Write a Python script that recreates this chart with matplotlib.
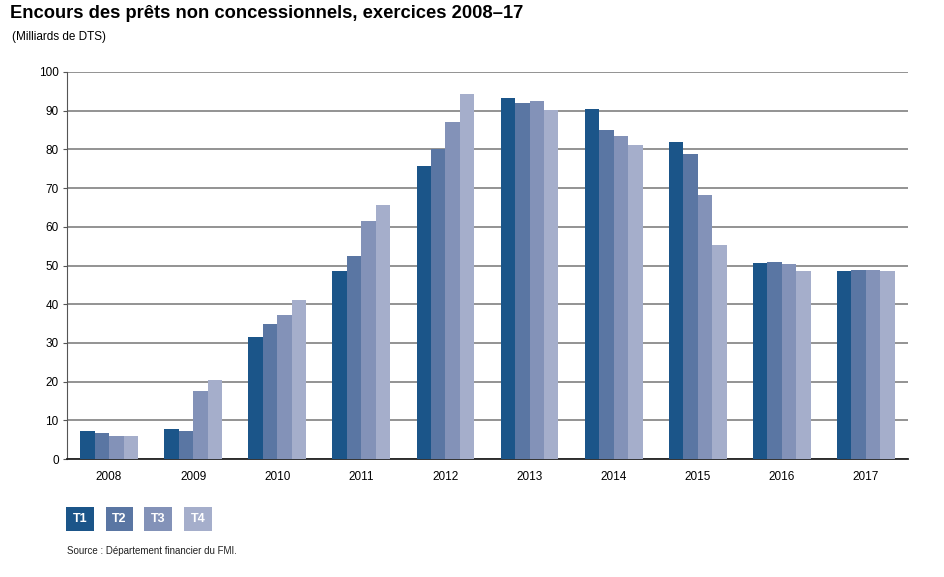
import matplotlib
matplotlib.use("Agg")
import matplotlib.pyplot as plt
import numpy as np

plt.rcParams['font.family'] = ['Liberation Sans', 'DejaVu Sans']

years = ["2008", "2009", "2010", "2011", "2012", "2013", "2014", "2015", "2016", "2017"]
series_names = ["T1", "T2", "T3", "T4"]
t1 = [7.3, 7.7, 31.6, 48.5, 75.6, 93.3, 90.4, 82.0, 50.7, 48.5]
t2 = [6.6, 7.3, 35.0, 52.5, 80.2, 91.9, 85.1, 78.7, 50.9, 48.9]
t3 = [5.9, 17.7, 37.2, 61.4, 87.2, 92.6, 83.4, 68.1, 50.3, 48.9]
t4 = [5.9, 20.5, 41.1, 65.6, 94.4, 90.1, 81.2, 55.3, 48.5, 48.5]
colors = ["#1b5589", "#5a76a3", "#8392b8", "#a5aecb"]
yticks = [0, 10, 20, 30, 40, 50, 60, 70, 80, 90, 100]

fig = plt.figure(figsize=(9.44, 5.77), dpi=100)
ax = fig.add_axes([67/944, 1-459/577, (908-67)/944, (459-72)/577])

x = np.arange(len(years))
w = 0.172
for i, (vals, c) in enumerate(zip([t1, t2, t3, t4], colors)):
    ax.bar(x + (i - 1.5) * w, vals, width=w, color=c, zorder=3, linewidth=0)

ax.set_xlim(-0.5, len(years) - 0.5)
ax.set_ylim(0, 100)
ax.set_yticks(yticks)
ax.set_xticks(x)
ax.set_xticklabels(years)
ax.yaxis.grid(True, color="#8a8a8a", linewidth=1.3, zorder=0)
ax.set_axisbelow(True)
for s in ["top", "right"]:
    ax.spines[s].set_visible(False)
ax.spines["left"].set_color("#555555")
ax.spines["bottom"].set_color("#222222")
ax.spines["bottom"].set_linewidth(1.3)
ax.tick_params(axis="y", length=3, color="#555555", labelsize=8.5, pad=3)
ax.tick_params(axis="x", length=0, labelsize=8.5, pad=9)

fig.text(10/944, 1-14/577, "Encours des prêts non concessionnels, exercices 2008–17",
         fontsize=13.2, fontweight="bold", va="center", ha="left")
fig.text(12/944, 1-37/577, "(Milliards de DTS)", fontsize=8.5, va="center", ha="left")

legend_x = [80, 119, 158, 198]
for name, c, lx in zip(series_names, colors, legend_x):
    fig.text(lx/944, 1-519/577, name, fontsize=9, fontweight="bold", color="white",
             ha="center", va="center",
             bbox=dict(boxstyle="square,pad=0.5", facecolor=c, edgecolor="none"))

fig.text(67/944, 1-551/577, "Source : Département financier du FMI.", fontsize=7,
         va="center", ha="left", color="#222222")

fig.savefig("out.png", dpi=100)
